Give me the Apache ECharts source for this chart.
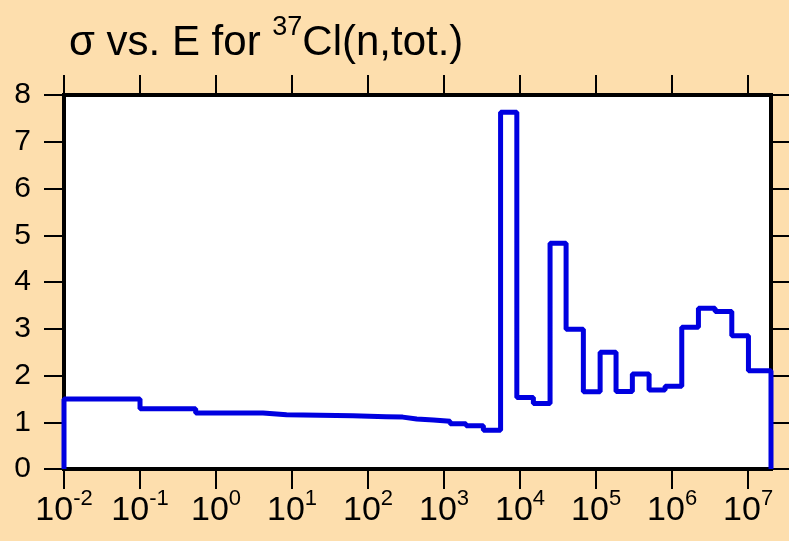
<!DOCTYPE html>
<html>
<head>
<meta charset="utf-8">
<script src="https://cdn.jsdelivr.net/npm/echarts@6/dist/echarts.min.js"></script>
<style>
html,body{margin:0;padding:0;background:#FDDEAD;}
#c{width:789px;height:541px;}
</style>
</head>
<body>
<div id="c"></div>
<script>
// Group boundaries (eV) and group-averaged total cross sections (b)
const energyBounds = [0.01, 0.1, 0.54, 4.15, 8.47, 14.0, 23.1, 38.2, 63, 104, 173, 286, 437, 723, 1200, 1946, 3290, 5540,
  9060, 14960, 24800, 40300, 68000, 113000, 183000, 300000, 498000, 809000, 1.34e6, 2.22e6, 3.68e6, 6.1e6, 1.01e7, 2.0e7];
const sigma = [1.50, 1.29, 1.20, 1.16, 1.155, 1.15, 1.145, 1.14, 1.13, 1.12, 1.11, 1.07, 1.05, 1.02, 0.97, 0.925, 0.83,
  7.63, 1.53, 1.40, 4.83, 2.99, 1.65, 2.50, 1.66, 2.03, 1.69, 1.77, 3.03, 3.44, 3.37, 2.85, 2.10];
const xTickValues = [0.01, 0.1, 1, 10, 100, 1000, 1e4, 1e5, 1e6, 1e7];
const titleText = '{a|σ vs. E for }{s|37}{a|Cl(n,tot.)}';

const stepData = [[energyBounds[0], 0]];
for (let i = 0; i < sigma.length; i++) stepData.push([energyBounds[i], sigma[i]]);
stepData.push([energyBounds[energyBounds.length - 1], sigma[sigma.length - 1]]);
stepData.push([energyBounds[energyBounds.length - 1], 0]);

const FONT = '"Liberation Sans", Arial, sans-serif';
const HIDDEN = 'rgba(0,0,0,0)';
function tickStyle() {
  return {show: true, length: 20, lineStyle: {color: '#000', width: 2}};
}

function xAxisCfg(pos, visibleLabels) {
  const tick = tickStyle();
  tick.customValues = xTickValues;
  const col = visibleLabels ? '#000' : HIDDEN;
  return {
    type: 'log', logBase: 10, position: pos, min: 0.01, max: 2e7,
    axisLine: {show: false, onZero: false},
    splitLine: {show: false},
    minorTick: {show: false},
    axisTick: tick,
    axisLabel: {
      show: true, inside: !visibleLabels, customValues: xTickValues, margin: visibleLabels ? 19 : 8, color: col,
      formatter: v => '{b|10}{s|' + Math.round(Math.log10(v)) + '}',
      rich: {
        b: {fontFamily: FONT, fontSize: 34, color: col, lineHeight: 40, verticalAlign: 'bottom'},
        s: {fontFamily: FONT, fontSize: 22, color: col, lineHeight: 22, verticalAlign: 'top'}
      }
    }
  };
}
function yAxisCfg(pos, visibleLabels) {
  return {
    type: 'value', position: pos, min: 0, max: 8, interval: 1,
    axisLine: {show: false, onZero: false},
    splitLine: {show: false},
    axisTick: tickStyle(),
    axisLabel: {show: true, inside: !visibleLabels, margin: visibleLabels ? 33 : 8, fontFamily: FONT, fontSize: 30,
      color: visibleLabels ? '#000' : HIDDEN}
  };
}

const chart = echarts.init(document.getElementById('c'), null, {renderer: 'canvas'});
chart.setOption({
  backgroundColor: '#FDDEAD',
  animation: false,
  title: {
    text: titleText, left: 64, top: 9,
    textStyle: {
      fontWeight: 'normal',
      rich: {
        a: {fontFamily: FONT, fontSize: 42, fontWeight: 'normal', color: '#000', lineHeight: 50, verticalAlign: 'bottom'},
        s: {fontFamily: FONT, fontSize: 27, fontWeight: 'normal', color: '#000', lineHeight: 27, verticalAlign: 'top'}
      }
    }
  },
  grid: {left: 64, right: 18, top: 95, bottom: 72, show: true, backgroundColor: '#fff', borderColor: '#000', borderWidth: 4},
  xAxis: [xAxisCfg('bottom', true), xAxisCfg('top', false)],
  yAxis: [yAxisCfg('left', true), yAxisCfg('right', false)],
  series: [{
    type: 'line', step: 'end', data: stepData, showSymbol: false, symbol: 'none',
    xAxisIndex: 0, yAxisIndex: 0,
    lineStyle: {color: '#0000E0', width: 5}, clip: false
  }]
});
</script>
</body>
</html>
